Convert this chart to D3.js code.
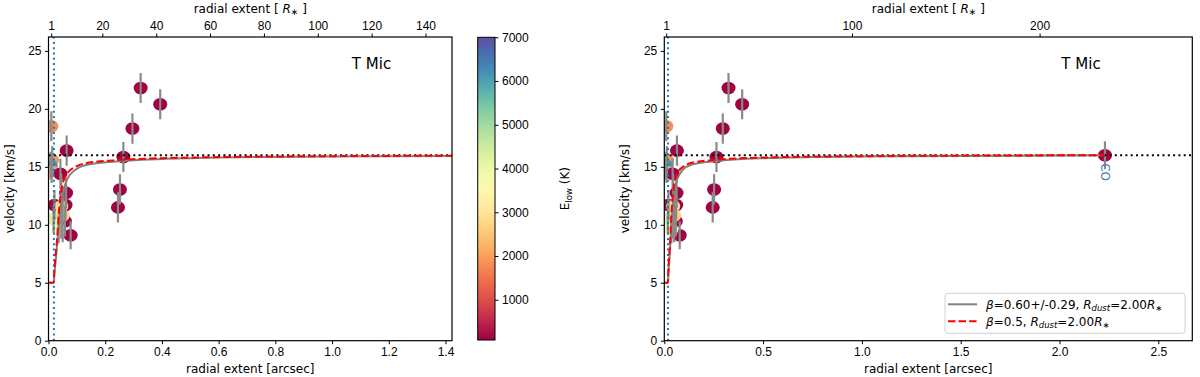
<!DOCTYPE html>
<html>
<head>
<meta charset="utf-8">
<script src="https://cdn.jsdelivr.net/npm/d3@7"></script>
<style>
  body { margin: 0; background: #fff; }
  svg { display: block; font-family: "DejaVu Sans", sans-serif; }
  .axis text { font-size: 12px; fill: #000; }
  .axis line { stroke: #000; stroke-width: 1; }
  .axis path { display: none; }
</style>
</head>
<body>
<div id="chart"></div>
<script>
// observed lines (arcsec, km/s, error, E_low in K)
const lineRadius   = [0.010, 0.013, 0.008, 0.011, 0.064, 0.042, 0.264, 0.296, 0.325, 0.394, 0.252, 0.245, 0.062, 0.060, 0.058, 0.078, 0.018, 0.036, 0.021, 0.045, 0.050, 2.23];
const lineVelocity = [18.5, 15.6, 15.1, 14.6, 16.4, 14.4, 15.85, 18.3, 21.8, 20.4, 13.05, 11.5, 12.75, 11.7, 10.3, 9.1, 10.5, 9.6, 11.7, 11.6, 10.8, 16.0];
const lineError    = [1.3, 1.2, 1.2, 1.0, 1.3, 1.3, 1.3, 1.3, 1.3, 1.3, 1.3, 1.3, 1.3, 1.3, 1.3, 1.2, 1.2, 1.2, 1.3, 2.8, 2.3, 1.2];
const lineElow     = [1800, 1900, 6200, 2100, 100, 100, 100, 100, 100, 100, 100, 100, 100, 100, 100, 100, 4300, 3300, 150, 2900, 2700, 100];
const lineLabel    = [null, null, null, null, null, null, null, null, null, null, null, null, null, null, null, null, null, null, null, null, null, "CO"];

// beta-law curves
const betaFitRadius     = [0, 0.0185, 0.021, 0.025, 0.032, 0.040, 0.050, 0.065, 0.095, 0.14, 0.26, 0.5, 1.0, 2.23];
const betaFitVelocity   = [5, 5, 5.8, 6.8, 8.7, 11.0, 12.6, 13.9, 14.75, 15.2, 15.5, 15.75, 15.9, 16.0];
const betaFixedRadius   = [0, 0.0185, 0.020, 0.023, 0.030, 0.038, 0.048, 0.065, 0.095, 0.14, 0.26, 0.5, 1.0, 2.23];
const betaFixedVelocity = [5, 5, 5.8, 6.8, 8.7, 11.5, 13.3, 14.4, 15.0, 15.35, 15.6, 15.8, 15.92, 16.0];

const vTerminal = 16;
const rDust = 0.019;            // arcsec, 2 R*
const rStarPerArcsec = 105.3;
const vMax = 26.2;
const eLowMin = 80, eLowMax = 7000;

const velocityTicks = [0, 5, 10, 15, 20, 25];
const colorbarTicks = [1000, 2000, 3000, 4000, 5000, 6000, 7000];

const leftPanel = {
  left: 48.5, right: 452, xMax: 1.423,
  xTicks: [0, 0.2, 0.4, 0.6, 0.8, 1.0, 1.2, 1.4],
  topTicks: [1, 20, 40, 60, 80, 100, 120, 140],
  titleX: 371.5, legend: false, id: "l"
};
const rightPanel = {
  left: 664.3, right: 1192.3, xMax: 2.672,
  xTicks: [0, 0.5, 1.0, 1.5, 2.0, 2.5],
  topTicks: [1, 100, 200],
  titleX: 1081, legend: true, id: "r"
};

const width = 1200, height = 377;
const plotTop = 37, plotBottom = 340.7;

const svg = d3.select("#chart").append("svg")
  .attr("width", width)
  .attr("height", height);

const colorScale = d3.scaleSequential(d3.interpolateSpectral).domain([eLowMin, eLowMax]);

const points = lineRadius.map((r, i) => ({
  r: r, v: lineVelocity[i], err: lineError[i], e: lineElow[i], label: lineLabel[i]
}));

function drawPanel(cfg) {
  const x = d3.scaleLinear().domain([0, cfg.xMax]).range([cfg.left, cfg.right]);
  const y = d3.scaleLinear().domain([0, vMax]).range([plotBottom, plotTop]);
  const xTop = d3.scaleLinear().domain([0, cfg.xMax * rStarPerArcsec]).range([cfg.left, cfg.right]);

  svg.append("clipPath").attr("id", "clip-" + cfg.id)
    .append("rect")
    .attr("x", cfg.left).attr("y", plotTop)
    .attr("width", cfg.right - cfg.left).attr("height", plotBottom - plotTop);

  const g = svg.append("g").attr("clip-path", `url(#clip-${cfg.id})`);

  // markers (under the lines, like matplotlib scatter)
  g.selectAll(".marker")
    .data(points)
    .join("ellipse")
    .attr("class", "marker")
    .attr("cx", d => x(d.r))
    .attr("cy", d => y(d.v))
    .attr("rx", 7)
    .attr("ry", 6.3)
    .attr("fill", d => colorScale(d.e));

  g.selectAll(".errbar")
    .data(points)
    .join("line")
    .attr("class", "errbar")
    .attr("x1", d => x(d.r)).attr("x2", d => x(d.r))
    .attr("y1", d => y(d.v - d.err)).attr("y2", d => y(d.v + d.err))
    .attr("stroke", "#8a8a8a")
    .attr("stroke-width", 2.2);

  g.selectAll(".line-label")
    .data(points.filter(d => d.label))
    .join("text")
    .attr("class", "line-label")
    .attr("transform", d => `translate(${x(d.r) - 4},${y(d.v) + 8}) rotate(90)`)
    .attr("font-size", 12)
    .attr("fill", "#4a7fb5")
    .text(d => d.label);

  // terminal velocity and dust radius
  g.append("line")
    .attr("x1", cfg.left).attr("x2", cfg.right)
    .attr("y1", y(vTerminal)).attr("y2", y(vTerminal))
    .attr("stroke", "#000").attr("stroke-width", 2)
    .attr("stroke-dasharray", "2,3.3");

  g.append("line")
    .attr("x1", x(rDust)).attr("x2", x(rDust))
    .attr("y1", plotBottom).attr("y2", plotTop)
    .attr("stroke", "#1f77b4").attr("stroke-width", 2)
    .attr("stroke-dasharray", "2,3.3");

  const line = d3.line()
    .x(d => x(d[0]))
    .y(d => y(d[1]))
    .curve(d3.curveMonotoneX);

  g.append("path")
    .datum(betaFitRadius.map((r, i) => [r, betaFitVelocity[i]]))
    .attr("d", line)
    .attr("fill", "none")
    .attr("stroke", "#808080")
    .attr("stroke-width", 2);

  g.append("path")
    .datum(betaFixedRadius.map((r, i) => [r, betaFixedVelocity[i]]))
    .attr("d", line)
    .attr("fill", "none")
    .attr("stroke", "#ff0000")
    .attr("stroke-width", 2)
    .attr("stroke-dasharray", "7.4,3.2");

  // frame
  svg.append("rect")
    .attr("x", cfg.left).attr("y", plotTop)
    .attr("width", cfg.right - cfg.left).attr("height", plotBottom - plotTop)
    .attr("fill", "none").attr("stroke", "#000").attr("stroke-width", 1.2);

  // axes
  svg.append("g").attr("class", "axis")
    .attr("transform", `translate(0,${plotBottom})`)
    .call(d3.axisBottom(x).tickValues(cfg.xTicks).tickFormat(d3.format(".1f"))
      .tickSize(3.5).tickPadding(3.5));

  svg.append("g").attr("class", "axis")
    .attr("transform", `translate(0,${plotTop})`)
    .call(d3.axisTop(xTop).tickValues(cfg.topTicks).tickFormat(d3.format("d"))
      .tickSize(3.5).tickPadding(3.5));

  svg.append("g").attr("class", "axis")
    .attr("transform", `translate(${cfg.left},0)`)
    .call(d3.axisLeft(y).tickValues(velocityTicks).tickFormat(d3.format("d"))
      .tickSize(3.5).tickPadding(3.5));

  const cx = (cfg.left + cfg.right) / 2;

  svg.append("text")
    .attr("x", cx).attr("y", 373)
    .attr("text-anchor", "middle").attr("font-size", 12)
    .text("radial extent [arcsec]");

  const topLabel = svg.append("text")
    .attr("x", cx).attr("y", 13)
    .attr("text-anchor", "middle").attr("font-size", 12);
  topLabel.append("tspan").text("radial extent [ ");
  topLabel.append("tspan").attr("font-style", "italic").text("R");
  topLabel.append("tspan").attr("font-size", 9).attr("dy", 2).text("∗");
  topLabel.append("tspan").attr("dy", -2).text(" ]");

  svg.append("text")
    .attr("transform", `translate(${cfg.left - 35},${(plotTop + plotBottom) / 2}) rotate(-90)`)
    .attr("text-anchor", "middle").attr("font-size", 12)
    .text("velocity [km/s]");

  svg.append("text")
    .attr("x", cfg.titleX).attr("y", 68.5)
    .attr("text-anchor", "middle").attr("font-size", 15)
    .text("T Mic");

  if (cfg.legend) drawLegend();
}

function drawLegend() {
  const lx = 945, ly = 293.3, lw = 240, lh = 40;
  const lg = svg.append("g");
  lg.append("rect")
    .attr("x", lx).attr("y", ly).attr("width", lw).attr("height", lh)
    .attr("rx", 3)
    .attr("fill", "#fff").attr("fill-opacity", 0.8)
    .attr("stroke", "#d0d0d0");

  const entries = [
    { beta: "0.60+/-0.29", color: "#808080", dash: null, y: ly + 11 },
    { beta: "0.5", color: "#ff0000", dash: "7.4,3.2", y: ly + 28 }
  ];

  entries.forEach(e => {
    lg.append("line")
      .attr("x1", lx + 3).attr("x2", lx + 32)
      .attr("y1", e.y).attr("y2", e.y)
      .attr("stroke", e.color).attr("stroke-width", 2)
      .attr("stroke-dasharray", e.dash);

    const t = lg.append("text")
      .attr("x", lx + 41).attr("y", e.y + 4.5)
      .attr("font-size", 12);
    t.append("tspan").attr("font-style", "italic").text("β");
    t.append("tspan").text("=" + e.beta + ", ");
    t.append("tspan").attr("font-style", "italic").text("R");
    t.append("tspan").attr("font-style", "italic").attr("font-size", 8.5).attr("dy", 2.5).text("dust");
    t.append("tspan").attr("dy", -2.5).text("=2.00");
    t.append("tspan").attr("font-style", "italic").text("R");
    t.append("tspan").attr("font-size", 8.5).attr("dy", 2).text("∗");
  });
}

function drawColorbar() {
  const bx = 477.7, bw = 17.3, by = 37.3, bh = 340 - 37.3;
  const defs = svg.append("defs");
  const grad = defs.append("linearGradient")
    .attr("id", "spectral")
    .attr("x1", 0).attr("y1", 1).attr("x2", 0).attr("y2", 0);
  d3.range(0, 1.0001, 0.05).forEach(t => {
    grad.append("stop")
      .attr("offset", t)
      .attr("stop-color", d3.interpolateSpectral(t));
  });

  svg.append("rect")
    .attr("x", bx).attr("y", by).attr("width", bw).attr("height", bh)
    .attr("fill", "url(#spectral)")
    .attr("stroke", "#000").attr("stroke-width", 1);

  const c = d3.scaleLinear().domain([eLowMin, eLowMax]).range([by + bh, by]);
  svg.append("g").attr("class", "axis")
    .attr("transform", `translate(${bx + bw},0)`)
    .call(d3.axisRight(c).tickValues(colorbarTicks).tickFormat(d3.format("d"))
      .tickSize(3.5).tickPadding(3.5));

  const label = svg.append("text")
    .attr("transform", `translate(569,${by + bh / 2}) rotate(-90)`)
    .attr("text-anchor", "middle").attr("font-size", 12);
  label.append("tspan").text("E");
  label.append("tspan").attr("font-size", 8.5).attr("dy", 2.5).text("low");
  label.append("tspan").attr("dy", -2.5).text(" (K)");
}

drawPanel(leftPanel);
drawPanel(rightPanel);
drawColorbar();
</script>
</body>
</html>
